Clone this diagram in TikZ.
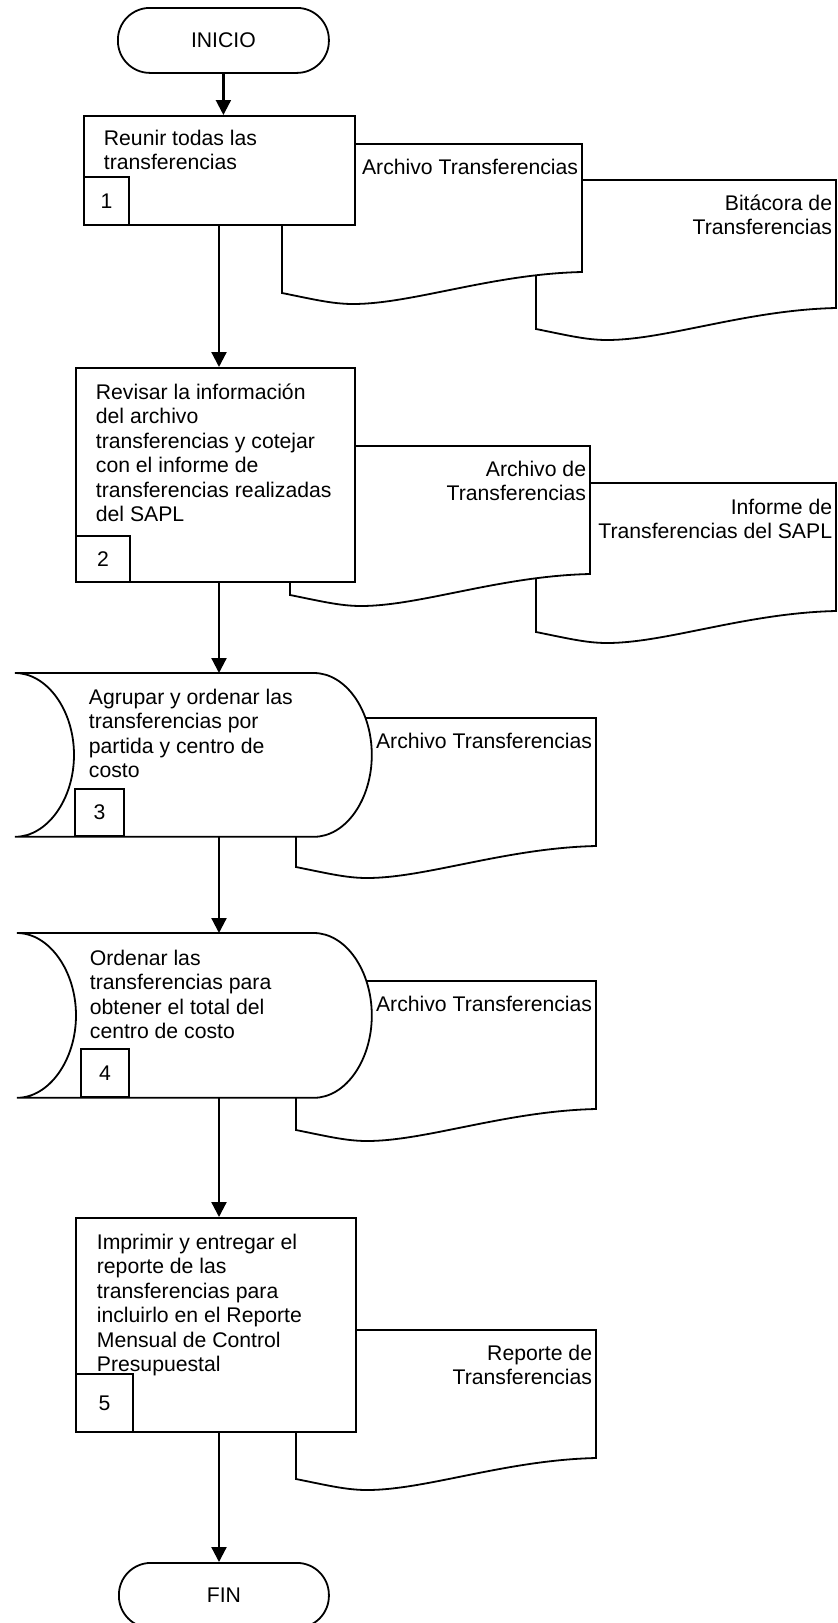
\documentclass[tikz,border=0pt]{standalone}
\usepackage{fontspec}
\setmainfont{Liberation Sans}
\usetikzlibrary{arrows.meta,calc}

% document symbol with a wavy lower edge, 300 x 128 units, top-left corner at (#1,#2)
\newcommand\docshape[2]{%
  \draw[fill=white, shift={(#1,#2)}]
    (0,0) -- (300,0) -- (300,128)
    .. controls (210,130) and (130,160) .. (71,160)
    .. controls (50,160) and (30,155) .. (0,149) -- cycle;}

% stored-data outline built on the anchors of a rectangular node
\newcommand\storedoutline[1]{%
  \draw[fill=white] (#1.north west) -- (#1.north east)
    .. controls ($(#1.north east)+(32,0)$) and ($(#1.east)+(58,-44.7)$) .. ($(#1.east)+(58,0)$)
    .. controls ($(#1.east)+(58,44.7)$) and ($(#1.south east)+(32,0)$) .. (#1.south east)
    -- (#1.south west)
    .. controls ($(#1.south west)+(32,0)$) and ($(#1.west)+(59,44.7)$) .. ($(#1.west)+(59,0)$)
    .. controls ($(#1.west)+(59,-44.7)$) and ($(#1.north west)+(32,0)$) .. cycle;}

\begin{document}
\begin{tikzpicture}[x=0.5pt,y=-0.5pt,
  line width=0.9pt,
  every node/.style={font=\fontsize{10.6}{12.25}\selectfont},
  terminal/.style={draw, fill=white, rectangle, rounded corners=16pt,
    minimum width=105.5pt, minimum height=32.5pt, inner sep=0pt, anchor=north west},
  procbox/.style={draw, fill=white, rectangle, inner sep=0pt, anchor=north west},
  frame/.style={rectangle, inner sep=0pt, anchor=north west},
  numbox/.style={draw, fill=white, rectangle, inner sep=0pt, anchor=north west},
  boxtext/.style={anchor=north west, align=left, inner sep=0pt},
  doctext/.style={anchor=north east, align=right, inner sep=0pt},
  flow/.style={line width=1.1pt, -{Triangle[width=7.5pt,length=7.5pt]}}
]
\useasboundingbox (0,0) rectangle (838,1623);

% start
\node[terminal] (inicio) at (117,7) {INICIO\hspace{6.5pt}};

% step 1 and its documents
\docshape{536}{180}
\node[doctext] (docB) at (833,192) {\strut Bitácora de\\Transferencias};
\docshape{282}{144}
\node[doctext] (docA) at (579,156) {\strut Archivo Transferencias};
\node[procbox, minimum width=135.5pt, minimum height=54.5pt] (box1) at (83,115) {};
\node[numbox, minimum width=22.5pt, minimum height=24pt] (n1) at (83,176) {1};
\node[boxtext] (t1) at (103,127) {\strut Reunir todas las\\transferencias};

% step 2 and its documents
\docshape{536}{483}
\node[doctext] (docD) at (833,496) {\strut Informe de\\Transferencias del SAPL};
\docshape{290}{446}
\node[doctext] (docC) at (587,458) {\strut Archivo de\\Transferencias};
\node[procbox, minimum width=139.5pt, minimum height=107pt] (box2) at (75,367) {};
\node[numbox, minimum width=27pt, minimum height=23pt] (n2) at (75,535) {2};
\node[boxtext] (t2) at (95,381) {\strut Revisar la información\\del archivo\\transferencias y cotejar\\con el informe de\\transferencias realizadas\\del SAPL};

% step 3
\node[frame, minimum width=148.5pt, minimum height=81pt] (s3) at (15,673) {};
\docshape{296}{718}
\node[doctext] (docE) at (593,730) {\strut Archivo Transferencias};
\storedoutline{s3}
\node[numbox, minimum width=24.5pt, minimum height=23.5pt] (n3) at (74,788) {3};
\node[boxtext] (t3) at (88,686) {\strut Agrupar y ordenar las\\transferencias por\\partida y centro de\\costo};

% step 4
\node[frame, minimum width=147.5pt, minimum height=81.5pt] (s4) at (17,933) {};
\docshape{296}{981}
\node[doctext] (docF) at (593,993) {\strut Archivo Transferencias};
\storedoutline{s4}
\node[numbox, minimum width=24pt, minimum height=24pt] (n4) at (80,1048) {4};
\node[boxtext] (t4) at (89,947) {\strut Ordenar las\\transferencias para\\obtener el total del\\centro de costo};

% step 5
\docshape{296}{1330}
\node[doctext] (docG) at (593,1342) {\strut Reporte de\\Transferencias};
\node[procbox, minimum width=140pt, minimum height=107pt] (box5) at (75,1217) {};
\node[numbox, minimum width=28.5pt, minimum height=29pt] (n5) at (75,1373) {5};
\node[boxtext] (t5) at (96,1231) {\strut Imprimir y entregar el\\reporte de las\\transferencias para\\incluirlo en el Reporte\\Mensual de Control\\Presupuestal};

% end
\node[terminal, minimum width=105pt] (fin) at (118,1562) {FIN\hspace{6.5pt}};

% flow
\coordinate (ax) at (219,0);
\draw[flow] (inicio.south) -- (inicio.south |- box1.north);
\draw[flow] (box1.south -| ax) -- (box2.north -| ax);
\draw[flow] (box2.south -| ax) -- (s3.north -| ax);
\draw[flow] (s3.south -| ax) -- (s4.north -| ax);
\draw[flow] (s4.south -| ax) -- (box5.north -| ax);
\draw[flow] (box5.south -| ax) -- (fin.north -| ax);
\end{tikzpicture}
\end{document}
